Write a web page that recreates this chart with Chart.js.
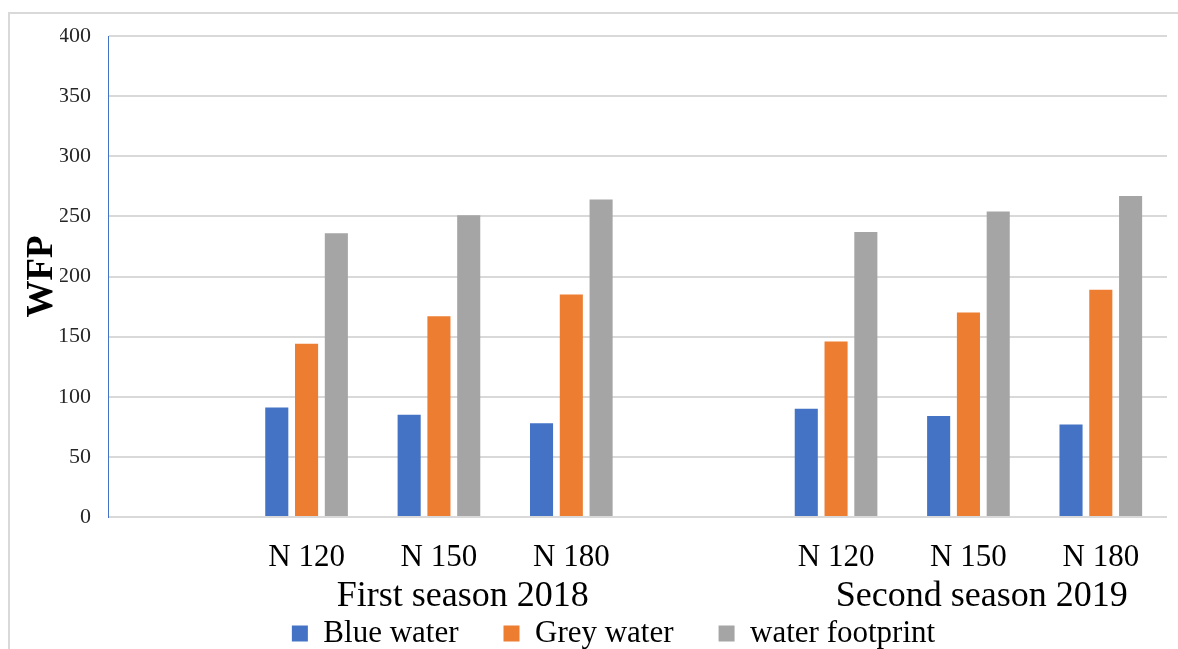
<!DOCTYPE html>
<html>
<head>
<meta charset="utf-8">
<script src="https://cdn.jsdelivr.net/npm/chart.js@4"></script>
<style>
  html, body { margin: 0; padding: 0; background: #fff; overflow: hidden; }
  #wrap { position: absolute; left: 0; top: 0; width: 1178px; height: 659px; }
</style>
</head>
<body>
<div id="wrap"><canvas id="c"></canvas></div>
<script>
const categories = ['', 'N 120', 'N 150', 'N 180', '', 'N 120', 'N 150', 'N 180'];
const blueWater = [null, 91, 85, 78, null, 90, 84, 77];
const greyWater = [null, 144, 167, 185, null, 146, 170, 189];
const waterFootprint = [null, 236, 251, 264, null, 237, 254, 267];
const seasonLabels = ['First season 2018', 'Second season 2019'];
const seasonAnchors = [2.18, 6.1];
const yTicks = [0, 50, 100, 150, 200, 250, 300, 350, 400];

const SERIF = "'Liberation Serif', 'Times New Roman', serif";

const framePlugin = {
  id: 'frame',
  beforeDraw(chart) {
    const ctx = chart.ctx;
    ctx.save();
    ctx.strokeStyle = '#d9d9d9';
    ctx.lineWidth = 2;
    ctx.strokeRect(9, 13, 1400, 1000);
    ctx.restore();
  }
};

const seasonPlugin = {
  id: 'seasons',
  afterDraw(chart) {
    const ctx = chart.ctx;
    const xs = chart.scales.x;
    ctx.save();
    ctx.font = '36px ' + SERIF;
    ctx.fillStyle = '#000';
    ctx.textAlign = 'center';
    ctx.textBaseline = 'alphabetic';
    seasonLabels.forEach((t, i) => {
      ctx.fillText(t, xs.getPixelForValue(seasonAnchors[i]), 606);
    });
    ctx.restore();
  }
};

new Chart(document.getElementById('c'), {
  type: 'bar',
  data: {
    labels: categories,
    datasets: [
      { label: 'Blue water', data: blueWater, backgroundColor: '#4472C4' },
      { label: 'Grey water', data: greyWater, backgroundColor: '#ED7D31' },
      { label: 'water footprint', data: waterFootprint, backgroundColor: '#A5A5A5' }
    ]
  },
  options: {
    responsive: true,
    maintainAspectRatio: false,
    animation: false,
    categoryPercentage: 0.675,
    barPercentage: 0.775,
    layout: { padding: { left: 60, right: 11, top: 36, bottom: 0 } },
    plugins: {
      tooltip: { enabled: false },
      legend: {
        position: 'bottom',
        labels: {
          font: { family: SERIF, size: 31 },
          color: '#000',
          boxWidth: 16,
          boxHeight: 16,
          padding: 45
        }
      }
    },
    scales: {
      x: {
        grid: { display: false },
        border: { display: false },
        ticks: {
          font: { family: SERIF, size: 31 },
          color: '#000',
          padding: 14,
          maxRotation: 0,
          autoSkip: false
        },
        afterFit(s) { s.height = 56; }
      },
      y: {
        min: 0,
        max: 400,
        afterBuildTicks(s) { s.ticks = yTicks.map(v => ({ value: v })); },
        grid: { color: '#d9d9d9', lineWidth: 2, drawTicks: false },
        border: { display: true, color: '#4472C4', width: 1 },
        ticks: {
          font: { family: SERIF, size: 22 },
          color: '#262626',
          padding: 17
        },
        title: {
          display: true,
          text: 'WFP',
          font: { family: SERIF, size: 37, weight: 'bold' },
          color: '#000',
          padding: { top: -40, bottom: 0 }
        },
        afterFit(s) { s.width = 48; }
      }
    }
  },
  plugins: [framePlugin, seasonPlugin]
});
</script>
</body>
</html>
